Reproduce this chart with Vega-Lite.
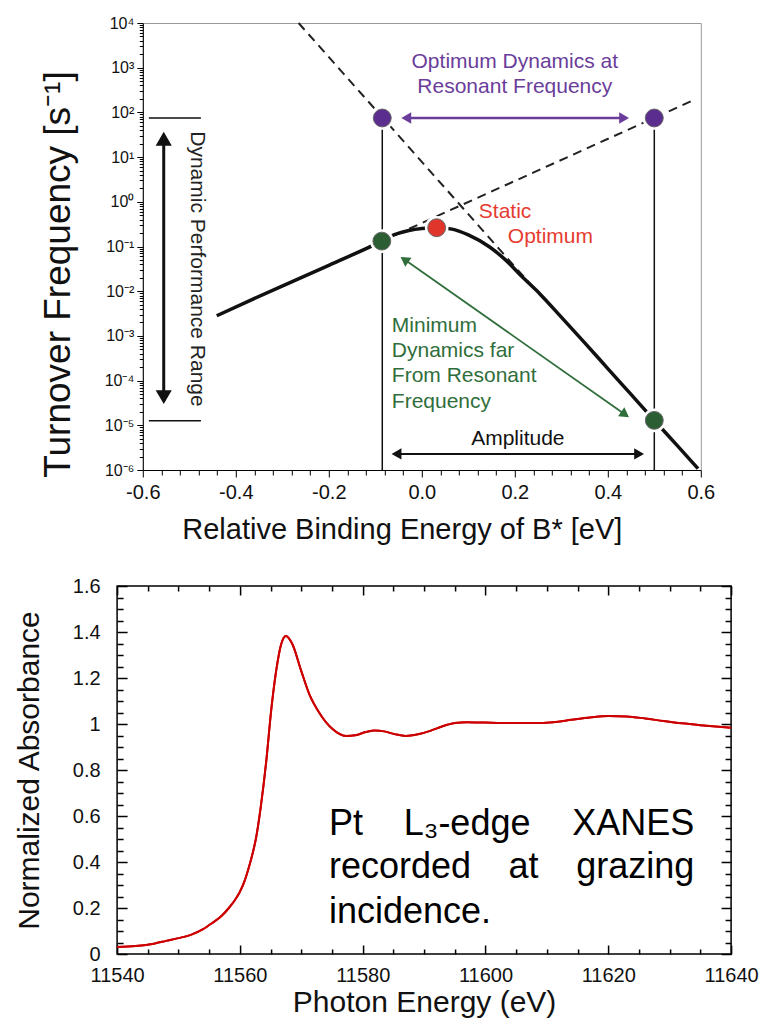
{
  "$schema": "https://vega.github.io/schema/vega-lite/v6.json",
  "background": "white",
  "padding": {"left": 13, "top": 14, "right": 5, "bottom": 5},
  "spacing": 30,
  "center": true,
  "config": {
    "font": "Liberation Sans",
    "axis": {"labelFont": "Liberation Sans", "titleFont": "Liberation Sans", "titleFontWeight": "normal", "grid": false, "labelColor": "#111", "titleColor": "#111", "tickColor": "#000", "domainColor": "#000", "labelFlush": false, "labelOverlap": false},
    "text": {"font": "Liberation Sans"}
  },
  "vconcat": [
    {
      "width": 558,
      "height": 447,
      "title": {"text": "\u00a0", "orient": "right", "offset": 8, "fontSize": 10},
      "view": {"stroke": "#999", "strokeWidth": 1},
      "data": {"values": [
        {"k": "curve", "x": -0.441, "y": 0.00282},
        {"k": "curve", "x": -0.37, "y": 0.00617},
        {"k": "curve", "x": -0.2, "y": 0.038},
        {"k": "curve", "x": -0.086, "y": 0.132},
        {"k": "curve", "x": -0.06, "y": 0.182},
        {"k": "curve", "x": -0.03, "y": 0.226},
        {"k": "curve", "x": 0.0, "y": 0.254},
        {"k": "curve", "x": 0.032, "y": 0.263},
        {"k": "curve", "x": 0.065, "y": 0.245},
        {"k": "curve", "x": 0.1, "y": 0.182},
        {"k": "curve", "x": 0.146, "y": 0.0977},
        {"k": "curve", "x": 0.18, "y": 0.0501},
        {"k": "curve", "x": 0.217, "y": 0.0204},
        {"k": "curve", "x": 0.254, "y": 0.0087},
        {"k": "curve", "x": 0.3, "y": 0.00263},
        {"k": "curve", "x": 0.35, "y": 0.000708},
        {"k": "curve", "x": 0.4, "y": 0.000186},
        {"k": "curve", "x": 0.45, "y": 0.000049},
        {"k": "curve", "x": 0.5, "y": 0.0000129},
        {"k": "curve", "x": 0.55, "y": 0.00000347},
        {"k": "curve", "x": 0.594, "y": 0.00000107},
        {"k": "dash", "id": "d1", "x": -0.265, "y": 10000},
        {"k": "dash", "id": "d1", "x": 0.247, "y": 0.01},
        {"k": "dash", "id": "d2", "x": -0.086, "y": 0.132},
        {"k": "dash", "id": "d2", "x": 0.59, "y": 200},
        {"k": "vline", "id": "v1", "x": -0.085, "y": 0.000001},
        {"k": "vline", "id": "v1", "x": -0.085, "y": 75},
        {"k": "vline", "id": "v2", "x": 0.5, "y": 0.000001},
        {"k": "vline", "id": "v2", "x": 0.5, "y": 75},
        {"k": "bar", "id": "b1", "x": -0.587, "y": 75},
        {"k": "bar", "id": "b1", "x": -0.475, "y": 75},
        {"k": "bar", "id": "b2", "x": -0.587, "y": 0.0000126},
        {"k": "bar", "id": "b2", "x": -0.475, "y": 0.0000126},
        {"k": "pline", "x": -0.0334, "y": 75},
        {"k": "pline", "x": 0.4351, "y": 75},
        {"k": "phl", "x": -0.0334, "y": 75},
        {"k": "phr", "x": 0.4351, "y": 75},
        {"k": "aline", "x": -0.0544, "y": 0.00000229},
        {"k": "aline", "x": 0.4673, "y": 0.00000229},
        {"k": "ahl", "x": -0.0544, "y": 0.00000229},
        {"k": "ahr", "x": 0.4673, "y": 0.00000229},
        {"k": "dline", "x": -0.555, "y": 25.6},
        {"k": "dline", "x": -0.555, "y": 0.0000427},
        {"k": "dhu", "x": -0.555, "y": 25.6},
        {"k": "dhd", "x": -0.555, "y": 0.0000427},
        {"k": "gline", "x": -0.0372, "y": 0.0509},
        {"k": "gline", "x": 0.4372, "y": 0.0000175},
        {"k": "ghul", "x": -0.0372, "y": 0.0509},
        {"k": "ghdr", "x": 0.4372, "y": 0.0000175},
        {"k": "dotp", "x": -0.085, "y": 75},
        {"k": "dotp", "x": 0.5, "y": 75},
        {"k": "dotg", "x": -0.086, "y": 0.132},
        {"k": "dotg", "x": 0.5, "y": 0.0000129},
        {"k": "dotr", "x": 0.032, "y": 0.263},
        {"k": "tp", "x": 0.2, "y": 1343, "t": "Optimum Dynamics at"},
        {"k": "tp", "x": 0.2, "y": 370, "t": "Resonant Frequency"},
        {"k": "tr", "x": 0.1226, "y": 0.591, "t": "Static"},
        {"k": "tr", "x": 0.185, "y": 0.163, "t": "Optimum"},
        {"k": "tg", "x": -0.0645, "y": 0.00166, "t": "Minimum"},
        {"k": "tg", "x": -0.0645, "y": 0.000459, "t": "Dynamics far"},
        {"k": "tg", "x": -0.0645, "y": 0.000127, "t": "From Resonant"},
        {"k": "tg", "x": -0.0645, "y": 0.0000332, "t": "Frequency"},
        {"k": "ta", "x": 0.2065, "y": 0.00000494, "t": "Amplitude"},
        {"k": "td", "x": -0.484, "y": 0.0314, "t": "Dynamic Performance Range"}
      ]},
      "encoding": {
        "x": {
          "field": "x", "type": "quantitative",
          "scale": {"domain": [-0.6, 0.6], "nice": false, "zero": false},
          "axis": {
            "values": [-0.6, -0.56, -0.52, -0.48, -0.44, -0.4, -0.36, -0.32, -0.28, -0.24, -0.2, -0.16, -0.12, -0.08, -0.04, 0, 0.04, 0.08, 0.12, 0.16, 0.2, 0.24, 0.28, 0.32, 0.36, 0.4, 0.44, 0.48, 0.52, 0.56, 0.6],
            "labelExpr": "abs(datum.value*5 - round(datum.value*5)) < 0.001 ? replace(format(datum.value, '.1f'), '\u2212', '-') : ''",
            "tickSize": {"condition": {"test": "abs(datum.value*5 - round(datum.value*5)) < 0.001", "value": 7}, "value": 5},
            "labelFontSize": 20,
            "labelPadding": 5,
            "title": "Relative Binding Energy of B* [eV]",
            "titleFontSize": 29,
            "titlePadding": 13,
            "titleX": 259
          }
        },
        "y": {
          "field": "y", "type": "quantitative",
          "scale": {"type": "log", "domain": [0.000001, 10000], "nice": false},
          "axis": {
            "values": [0.000001, 0.000002, 0.000003, 0.000004, 0.000005, 0.000006, 0.000007, 0.000008, 0.000009,
                       0.00001, 0.00002, 0.00003, 0.00004, 0.00005, 0.00006, 0.00007, 0.00008, 0.00009,
                       0.0001, 0.0002, 0.0003, 0.0004, 0.0005, 0.0006, 0.0007, 0.0008, 0.0009,
                       0.001, 0.002, 0.003, 0.004, 0.005, 0.006, 0.007, 0.008, 0.009,
                       0.01, 0.02, 0.03, 0.04, 0.05, 0.06, 0.07, 0.08, 0.09,
                       0.1, 0.2, 0.3, 0.4, 0.5, 0.6, 0.7, 0.8, 0.9,
                       1, 2, 3, 4, 5, 6, 7, 8, 9,
                       10, 20, 30, 40, 50, 60, 70, 80, 90,
                       100, 200, 300, 400, 500, 600, 700, 800, 900,
                       1000, 2000, 3000, 4000, 5000, 6000, 7000, 8000, 9000, 10000],
            "labelExpr": "abs(log(datum.value)/LN10 - round(log(datum.value)/LN10)) < 0.01 ? ['10\u207b\u2076','10\u207b\u2075','10\u207b\u2074','10\u207b\u00b3','10\u207b\u00b2','10\u207b\u00b9','10\u2070','10\u00b9','10\u00b2','10\u00b3','10\u2074'][round(log(datum.value)/LN10)+6] : ''",
            "tickSize": {"condition": {"test": "abs(log(datum.value)/LN10 - round(log(datum.value)/LN10)) < 0.01", "value": 6}, "value": 3.5},
            "labelFontSize": 16,
            "labelPadding": 3,
            "title": "Turnover Frequency [s\u207b\u00b9]",
            "titleFontSize": 37,
            "titlePadding": 27,
            "titleY": 251
          }
        }
      },
      "layer": [
        {"transform": [{"filter": "datum.k === 'vline'"}], "mark": {"type": "line", "color": "#111", "strokeWidth": 1.5}, "encoding": {"detail": {"field": "id"}}},
        {"transform": [{"filter": "datum.k === 'bar'"}], "mark": {"type": "line", "color": "#111", "strokeWidth": 1.5}, "encoding": {"detail": {"field": "id"}}},
        {"transform": [{"filter": "datum.k === 'dash'"}], "mark": {"type": "line", "color": "#222", "strokeWidth": 2, "strokeDash": [9, 6]}, "encoding": {"detail": {"field": "id"}}},
        {"transform": [{"filter": "datum.k === 'curve'"}], "mark": {"type": "line", "color": "#111", "strokeWidth": 3.5, "interpolate": "monotone"}, "encoding": {}},
        {"transform": [{"filter": "datum.k === 'pline'"}], "mark": {"type": "line", "color": "#6a3d9a", "strokeWidth": 2.5}, "encoding": {}},
        {"transform": [{"filter": "datum.k === 'aline'"}], "mark": {"type": "line", "color": "#111", "strokeWidth": 2}, "encoding": {}},
        {"transform": [{"filter": "datum.k === 'dline'"}], "mark": {"type": "line", "color": "#111", "strokeWidth": 3}, "encoding": {}},
        {"transform": [{"filter": "datum.k === 'gline'"}], "mark": {"type": "line", "color": "#2f6e3b", "strokeWidth": 1.8}, "encoding": {}},
        {"transform": [{"filter": "datum.k === 'phl'"}], "mark": {"type": "point", "shape": "triangle-left", "filled": true, "color": "#6a3d9a", "opacity": 1, "size": 130}},
        {"transform": [{"filter": "datum.k === 'phr'"}], "mark": {"type": "point", "shape": "triangle-right", "filled": true, "color": "#6a3d9a", "opacity": 1, "size": 130}},
        {"transform": [{"filter": "datum.k === 'ahl'"}], "mark": {"type": "point", "shape": "triangle-left", "filled": true, "color": "#111", "opacity": 1, "size": 130}},
        {"transform": [{"filter": "datum.k === 'ahr'"}], "mark": {"type": "point", "shape": "triangle-right", "filled": true, "color": "#111", "opacity": 1, "size": 130}},
        {"transform": [{"filter": "datum.k === 'dhu'"}], "mark": {"type": "point", "shape": "triangle-up", "filled": true, "color": "#111", "opacity": 1, "size": 260}},
        {"transform": [{"filter": "datum.k === 'dhd'"}], "mark": {"type": "point", "shape": "triangle-down", "filled": true, "color": "#111", "opacity": 1, "size": 260}},
        {"transform": [{"filter": "datum.k === 'ghul'"}], "mark": {"type": "point", "shape": "triangle-up", "angle": 305, "filled": true, "color": "#2f6e3b", "opacity": 1, "size": 120}},
        {"transform": [{"filter": "datum.k === 'ghdr'"}], "mark": {"type": "point", "shape": "triangle-up", "angle": 125, "filled": true, "color": "#2f6e3b", "opacity": 1, "size": 120}},
        {"transform": [{"filter": "datum.k === 'dotp' || datum.k === 'dotg' || datum.k === 'dotr'"}], "mark": {"type": "point", "shape": "circle", "filled": true, "color": "white", "opacity": 1, "size": 560}},
        {"transform": [{"filter": "datum.k === 'dotp'"}], "mark": {"type": "point", "shape": "circle", "filled": true, "fill": "#5b2d8e", "stroke": "#666", "strokeWidth": 1, "opacity": 1, "size": 320}},
        {"transform": [{"filter": "datum.k === 'dotg'"}], "mark": {"type": "point", "shape": "circle", "filled": true, "fill": "#2c5e34", "stroke": "#666", "strokeWidth": 1, "opacity": 1, "size": 320}},
        {"transform": [{"filter": "datum.k === 'dotr'"}], "mark": {"type": "point", "shape": "circle", "filled": true, "fill": "#e0352b", "stroke": "#666", "strokeWidth": 1, "opacity": 1, "size": 320}},
        {"transform": [{"filter": "datum.k === 'tp'"}], "mark": {"type": "text", "color": "#6a3d9a", "fontSize": 21, "align": "center", "baseline": "middle"}, "encoding": {"text": {"field": "t"}}},
        {"transform": [{"filter": "datum.k === 'tr'"}], "mark": {"type": "text", "color": "#e63b30", "fontSize": 21, "align": "left", "baseline": "middle"}, "encoding": {"text": {"field": "t"}}},
        {"transform": [{"filter": "datum.k === 'tg'"}], "mark": {"type": "text", "color": "#2f6e3b", "fontSize": 21, "align": "left", "baseline": "middle"}, "encoding": {"text": {"field": "t"}}},
        {"transform": [{"filter": "datum.k === 'ta'"}], "mark": {"type": "text", "color": "#111", "fontSize": 21, "align": "center", "baseline": "middle"}, "encoding": {"text": {"field": "t"}}},
        {"transform": [{"filter": "datum.k === 'td'"}], "mark": {"type": "text", "color": "#222", "fontSize": 21, "align": "center", "baseline": "middle", "angle": 90}, "encoding": {"text": {"field": "t"}}}
      ]
    },
    {
      "width": 614,
      "height": 368,
      "view": {"stroke": "#000", "strokeWidth": 1.5},
      "data": {"values": [
        {"k": "xanes", "x": 11540, "y": 0.030},
        {"k": "xanes", "x": 11543, "y": 0.035},
        {"k": "xanes", "x": 11546, "y": 0.045},
        {"k": "xanes", "x": 11548, "y": 0.057},
        {"k": "xanes", "x": 11550, "y": 0.069},
        {"k": "xanes", "x": 11552, "y": 0.083},
        {"k": "xanes", "x": 11554, "y": 0.108},
        {"k": "xanes", "x": 11555.5, "y": 0.135},
        {"k": "xanes", "x": 11557, "y": 0.165},
        {"k": "xanes", "x": 11558.2, "y": 0.200},
        {"k": "xanes", "x": 11559.2, "y": 0.235},
        {"k": "xanes", "x": 11559.9, "y": 0.265},
        {"k": "xanes", "x": 11560.8, "y": 0.320},
        {"k": "xanes", "x": 11561.5, "y": 0.380},
        {"k": "xanes", "x": 11562.1, "y": 0.440},
        {"k": "xanes", "x": 11562.6, "y": 0.500},
        {"k": "xanes", "x": 11563.4, "y": 0.640},
        {"k": "xanes", "x": 11564.3, "y": 0.840},
        {"k": "xanes", "x": 11565.1, "y": 1.060},
        {"k": "xanes", "x": 11565.9, "y": 1.230},
        {"k": "xanes", "x": 11566.7, "y": 1.345},
        {"k": "xanes", "x": 11567.5, "y": 1.383},
        {"k": "xanes", "x": 11568.5, "y": 1.350},
        {"k": "xanes", "x": 11570, "y": 1.230},
        {"k": "xanes", "x": 11571.3, "y": 1.130},
        {"k": "xanes", "x": 11572.9, "y": 1.050},
        {"k": "xanes", "x": 11575, "y": 0.980},
        {"k": "xanes", "x": 11577.3, "y": 0.948},
        {"k": "xanes", "x": 11578.8, "y": 0.951},
        {"k": "xanes", "x": 11580.5, "y": 0.965},
        {"k": "xanes", "x": 11582, "y": 0.972},
        {"k": "xanes", "x": 11583.5, "y": 0.968},
        {"k": "xanes", "x": 11585.2, "y": 0.956},
        {"k": "xanes", "x": 11587, "y": 0.948},
        {"k": "xanes", "x": 11589, "y": 0.955},
        {"k": "xanes", "x": 11591, "y": 0.970},
        {"k": "xanes", "x": 11593, "y": 0.990},
        {"k": "xanes", "x": 11595, "y": 1.004},
        {"k": "xanes", "x": 11597, "y": 1.008},
        {"k": "xanes", "x": 11600, "y": 1.006},
        {"k": "xanes", "x": 11604, "y": 1.004},
        {"k": "xanes", "x": 11608, "y": 1.004},
        {"k": "xanes", "x": 11611, "y": 1.008},
        {"k": "xanes", "x": 11614, "y": 1.018},
        {"k": "xanes", "x": 11617, "y": 1.028},
        {"k": "xanes", "x": 11620, "y": 1.035},
        {"k": "xanes", "x": 11623, "y": 1.033},
        {"k": "xanes", "x": 11626, "y": 1.024},
        {"k": "xanes", "x": 11629, "y": 1.013},
        {"k": "xanes", "x": 11632, "y": 1.003},
        {"k": "xanes", "x": 11635, "y": 0.995},
        {"k": "xanes", "x": 11638, "y": 0.988},
        {"k": "xanes", "x": 11640, "y": 0.984},
        {"k": "tl", "x": 11574.5, "y": 0.517, "t": "Pt"},
        {"k": "tc", "x": 11597.0, "y": 0.517, "t": "L\u2083-edge"},
        {"k": "tr", "x": 11634.0, "y": 0.517, "t": "XANES"},
        {"k": "tl", "x": 11574.5, "y": 0.330, "t": "recorded"},
        {"k": "tc", "x": 11606.2, "y": 0.330, "t": "at"},
        {"k": "tr", "x": 11634.0, "y": 0.330, "t": "grazing"},
        {"k": "tl", "x": 11574.5, "y": 0.135, "t": "incidence."}
      ]},
      "layer": [
        {
          "transform": [{"filter": "datum.k === 'xanes'"}],
          "mark": {"type": "line", "color": "#cc0000", "strokeWidth": 2, "interpolate": "monotone"},
          "encoding": {
            "x": {"field": "x", "type": "quantitative", "scale": {"domain": [11540, 11640], "nice": false, "zero": false},
                  "axis": {"orient": "bottom", "domain": false,
                           "values": [11540, 11545, 11550, 11555, 11560, 11565, 11570, 11575, 11580, 11585, 11590, 11595, 11600, 11605, 11610, 11615, 11620, 11625, 11630, 11635, 11640],
                           "labelExpr": "datum.value % 20 === 0 ? format(datum.value, 'd') : ''",
                           "tickSize": {"condition": {"test": "datum.value % 20 === 0", "value": -9}, "value": -5},
                           "tickWidth": 1.5,
                           "labelFontSize": 20, "labelPadding": 20,
                           "title": "Photon Energy (eV)", "titleFontSize": 30, "titlePadding": -2}},
            "y": {"field": "y", "type": "quantitative", "scale": {"domain": [0, 1.6], "nice": false, "zero": false},
                  "axis": {"orient": "left", "domain": false,
                           "values": [0, 0.05, 0.1, 0.15, 0.2, 0.25, 0.3, 0.35, 0.4, 0.45, 0.5, 0.55, 0.6, 0.65, 0.7, 0.75, 0.8, 0.85, 0.9, 0.95, 1, 1.05, 1.1, 1.15, 1.2, 1.25, 1.3, 1.35, 1.4, 1.45, 1.5, 1.55, 1.6],
                           "labelExpr": "abs(datum.value*5 - round(datum.value*5)) < 0.001 ? format(datum.value, '~g') : ''",
                           "tickSize": {"condition": {"test": "abs(datum.value*5 - round(datum.value*5)) < 0.001", "value": -10}, "value": -6},
                           "tickWidth": 1.5,
                           "labelFontSize": 20, "labelPadding": 27,
                           "title": "Normalized Absorbance", "titleFontSize": 30, "titlePadding": 28}}
          }
        },
        {
          "transform": [{"filter": "datum.k === 'xanes'"}],
          "mark": {"type": "line", "color": "#cc0000", "strokeWidth": 2, "interpolate": "monotone"},
          "encoding": {
            "x": {"field": "x", "type": "quantitative", "scale": {"domain": [11540, 11640], "nice": false, "zero": false},
                  "axis": {"orient": "top", "domain": false, "labels": false, "title": null,
                           "values": [11540, 11545, 11550, 11555, 11560, 11565, 11570, 11575, 11580, 11585, 11590, 11595, 11600, 11605, 11610, 11615, 11620, 11625, 11630, 11635, 11640],
                           "tickSize": {"condition": {"test": "datum.value % 20 === 0", "value": -9}, "value": -5},
                           "tickWidth": 1.5}},
            "y": {"field": "y", "type": "quantitative", "scale": {"domain": [0, 1.6], "nice": false, "zero": false},
                  "axis": {"orient": "right", "domain": false, "labels": false, "title": null,
                           "values": [0, 0.05, 0.1, 0.15, 0.2, 0.25, 0.3, 0.35, 0.4, 0.45, 0.5, 0.55, 0.6, 0.65, 0.7, 0.75, 0.8, 0.85, 0.9, 0.95, 1, 1.05, 1.1, 1.15, 1.2, 1.25, 1.3, 1.35, 1.4, 1.45, 1.5, 1.55, 1.6],
                           "tickSize": {"condition": {"test": "abs(datum.value*5 - round(datum.value*5)) < 0.001", "value": -10}, "value": -6},
                           "tickWidth": 1.5}}
          }
        },
        {
          "transform": [{"filter": "datum.k === 'tl'"}],
          "mark": {"type": "text", "color": "#000", "fontSize": 36, "align": "left", "baseline": "alphabetic"},
          "encoding": {
            "x": {"field": "x", "type": "quantitative", "axis": null},
            "y": {"field": "y", "type": "quantitative", "axis": null},
            "text": {"field": "t"}
          }
        },
        {
          "transform": [{"filter": "datum.k === 'tc'"}],
          "mark": {"type": "text", "color": "#000", "fontSize": 36, "align": "center", "baseline": "alphabetic"},
          "encoding": {
            "x": {"field": "x", "type": "quantitative", "axis": null},
            "y": {"field": "y", "type": "quantitative", "axis": null},
            "text": {"field": "t"}
          }
        },
        {
          "transform": [{"filter": "datum.k === 'tr'"}],
          "mark": {"type": "text", "color": "#000", "fontSize": 36, "align": "right", "baseline": "alphabetic"},
          "encoding": {
            "x": {"field": "x", "type": "quantitative", "axis": null},
            "y": {"field": "y", "type": "quantitative", "axis": null},
            "text": {"field": "t"}
          }
        }
      ],
      "resolve": {"axis": {"x": "independent", "y": "independent"}}
    }
  ]
}
